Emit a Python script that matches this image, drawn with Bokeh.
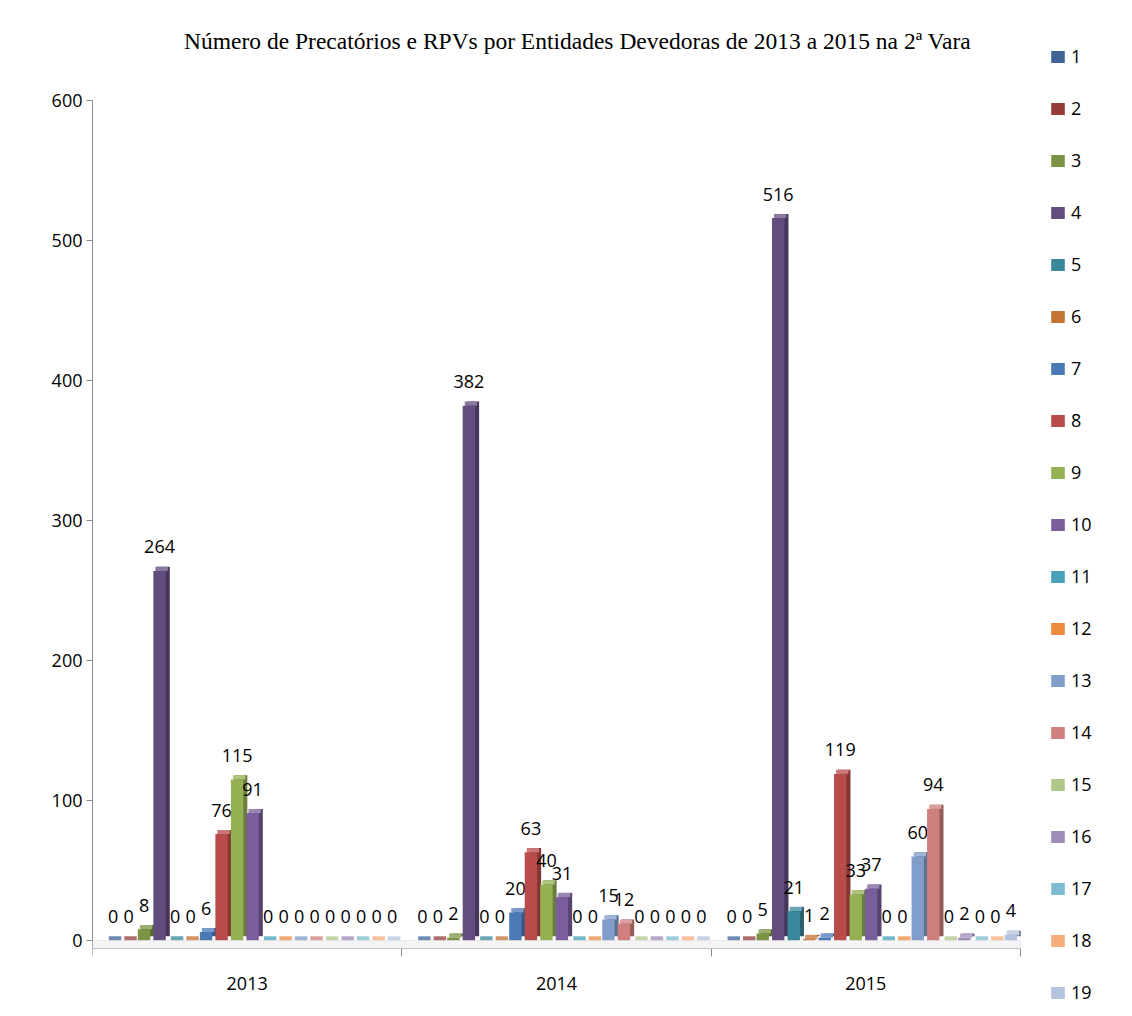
from bokeh.plotting import figure
from bokeh.models import (Range1d, FixedTicker, SingleIntervalTicker, Label,
                          Legend, LegendItem, ColumnDataSource, BoxAnnotation)
from bokeh.transform import dodge
from bokeh.core.properties import value
from bokeh.embed import file_html
from bokeh.resources import INLINE

# ---------------- data ----------------
years = ["2013", "2014", "2015"]
entities = [str(i) for i in range(1, 20)]
counts_2013 = [0, 0, 8, 264, 0, 0, 6, 76, 115, 91, 0, 0, 0, 0, 0, 0, 0, 0, 0]
counts_2014 = [0, 0, 2, 382, 0, 0, 20, 63, 40, 31, 0, 0, 15, 12, 0, 0, 0, 0, 0]
counts_2015 = [0, 0, 5, 516, 21, 1, 2, 119, 33, 37, 0, 0, 60, 94, 0, 2, 0, 0, 4]
y_max = 600
y_ticks_interval = 100
title_text = "Número de Precatórios e RPVs  por Entidades Devedoras de 2013 a 2015 na 2ª Vara"

colors = ["#3F6597", "#953C3A", "#7B9443", "#624D7E", "#39879B", "#C37433",
          "#4A7AB6", "#B84C4A", "#94B154", "#7A5E9B", "#47A1BA", "#EC8B3F",
          "#809DCB", "#CE7F7E", "#B0C78A", "#9D8CB6", "#7DBCD0", "#F7AC7C", "#B4C4DE"]

per_year = [counts_2013, counts_2014, counts_2015]
data = {"year": years, "xc": [i + 0.5 for i in range(len(years))]}
for j, ent in enumerate(entities):
    data["s" + ent] = [yr[j] for yr in per_year]
    data["t" + ent] = [str(yr[j]) for yr in per_year]
src = ColumnDataSource(data)


def shade(hex_color, f):
    r, g, b = int(hex_color[1:3], 16), int(hex_color[3:5], 16), int(hex_color[5:7], 16)
    if f < 1:
        r, g, b = int(r * f), int(g * f), int(b * f)
    else:
        k = f - 1
        r, g, b = int(r + (255 - r) * k), int(g + (255 - g) * k), int(b + (255 - b) * k)
    return "#%02x%02x%02x" % (r, g, b)


# ---------------- layout geometry (pixels) ----------------
W, H = 1132, 1016
LEFT = 92                 # y-axis panel
PLOT_RIGHT = 1020         # right end of the category area
ZERO_Y = 940              # screen row of value 0
AXIS_Y = 948              # screen row of the x axis line
TOP_Y = 100               # screen row of value 600
px_y = (ZERO_Y - TOP_Y) / y_max
px_x = (PLOT_RIGHT - LEFT) / len(years)

y_start = -(H - ZERO_Y) / px_y
y_end = y_start + H / px_y
x_end = (W - LEFT) / px_x
axis_val = -(AXIS_Y - ZERO_Y) / px_y

p = figure(width=W, height=H,
           x_range=Range1d(0, x_end),
           y_range=Range1d(y_start, y_end),
           title=None,
           output_backend="svg", toolbar_location=None,
           min_border_left=LEFT, min_border_right=0,
           min_border_top=0, min_border_bottom=0,
           outline_line_color=None, background_fill_color="white",
           border_fill_color="white")
p.grid.grid_line_color = None

# y axis
ya = p.yaxis[0]
ya.ticker = SingleIntervalTicker(interval=y_ticks_interval, num_minor_ticks=0)
ya.bounds = (axis_val, y_max)
ya.axis_line_color = "#8c8c8c"
ya.major_tick_line_color = "#8c8c8c"
ya.major_tick_out = 6
ya.major_tick_in = 0
ya.minor_tick_line_color = None
ya.major_label_standoff = 4
ya.major_label_text_font = "Open Sans"
ya.major_label_text_font_size = "18px"
ya.major_label_text_color = "black"

# x axis: drawn inside the frame at the floor, labels centred, ticks at group edges
xa = p.xaxis[0]
xa.fixed_location = axis_val
xa.bounds = (0, len(years))
xa.ticker = FixedTicker(ticks=data["xc"], minor_ticks=list(range(len(years) + 1)))
xa.major_label_overrides = {xc: y for xc, y in zip(data["xc"], years)}
xa.axis_line_color = "#8c8c8c"
xa.major_tick_out = 0
xa.major_tick_in = 0
xa.minor_tick_line_color = "#8c8c8c"
xa.minor_tick_out = 8
xa.minor_tick_in = 0
xa.major_label_standoff = 20
xa.major_label_text_font = "Open Sans"
xa.major_label_text_font_size = "18px"
xa.major_label_text_color = "black"

# floor
p.add_layout(BoxAnnotation(bottom=axis_val, top=0, left=0, right=len(years),
                           fill_color="#f4f4f4", fill_alpha=1,
                           line_color="#c8c8c8", line_width=1))

# title
p.add_layout(Label(x=(580 - LEFT) / px_x, y=y_start + (H - 40) / px_y, text=title_text,
                   text_align="center", text_baseline="middle",
                   text_font="Liberation Serif", text_font_size="23.5px",
                   text_color="black"))

# bars
n = len(entities)
pitch = 1.0 / (n + 0.95)
bar_w = 0.8 * pitch
dx = 0.26 * pitch
dy = 3.0
items = []
for j, ent in enumerate(entities):
    off = (j - (n - 1) / 2 + 0.35) * pitch
    col = "s" + ent
    c = colors[j]
    p.vbar(x=dodge("xc", off + dx), top=dodge(col, dy), bottom=dy,
           width=bar_w, source=src, fill_color=shade(c, 0.72), line_color=None)
    p.vbar(x=dodge("xc", off + dx / 2), top=dodge(col, dy), bottom=col,
           width=bar_w, source=src, fill_color=shade(c, 1.25), line_color=None)
    r = p.vbar(x=dodge("xc", off), top=col, bottom=0,
               width=bar_w, source=src, fill_color=c, line_color=None)
    p.text(x=dodge("xc", off), y=col, text="t" + ent, source=src,
           text_font=value("Open Sans"), text_font_size="18px", text_color="black",
           text_align="center", text_baseline="alphabetic", y_offset=-24)
    items.append(LegendItem(label=ent, renderers=[r]))

# legend (inside the frame, at the right edge)
item_h = 24
spacing = 28
leg_h = n * item_h + (n - 1) * spacing
leg_top = 44
legend = Legend(items=items, location=(1049 - LEFT, H - leg_top - leg_h),
                orientation="vertical", border_line_color=None, background_fill_alpha=0,
                padding=0, margin=0, spacing=spacing,
                glyph_width=17, glyph_height=15, label_height=item_h, label_standoff=5,
                label_text_font="Open Sans", label_text_font_size="18px",
                label_text_color="black")
p.add_layout(legend, "center")

html = file_html(p, INLINE)
open("out.html", "w").write(html)
